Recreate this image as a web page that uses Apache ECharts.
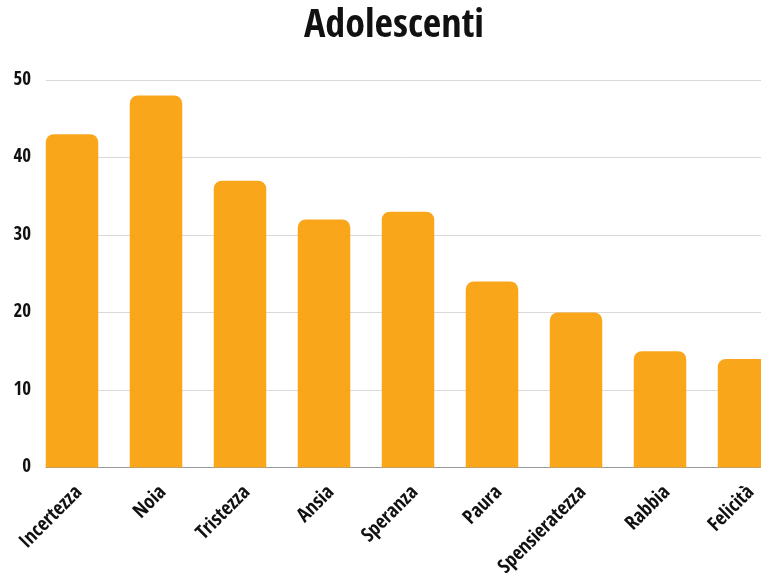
<!DOCTYPE html>
<html>
<head>
<meta charset="utf-8">
<script src="https://cdn.jsdelivr.net/npm/echarts@6/dist/echarts.min.js"></script>
<style>
  html, body { margin: 0; padding: 0; background: #fff; }
  #chart { width: 761px; height: 573px; }
</style>
</head>
<body>
<div id="chart"></div>
<script>
// Emozioni indicate dagli adolescenti
const categories = ['Incertezza', 'Noia', 'Tristezza', 'Ansia', 'Speranza', 'Paura', 'Spensieratezza', 'Rabbia', 'Felicità'];
const values = [43, 48, 37, 32, 33, 24, 20, 15, 14];
const yTicks = [0, 10, 20, 30, 40, 50];

const FONT = '"Open Sans Condensed", "Open Sans", sans-serif';
const TOP = 80, PLOT_H = 387.5;

const chart = echarts.init(document.getElementById('chart'), null, { renderer: 'canvas' });
chart.setOption({
  backgroundColor: '#ffffff',
  animation: false,
  title: {
    text: 'Adolescenti',
    left: 304,
    top: 7,
    padding: 0,
    textStyle: { fontFamily: FONT, fontWeight: 'bold', fontSize: 40, color: '#111' }
  },
  grid: [
    // bars: nine slots of 84px, the last one running past the right edge
    { left: 30, top: TOP, width: 756, height: PLOT_H, containLabel: false, outerBoundsMode: 'none' },
    // gridlines and value labels
    { left: 46, top: TOP, right: 0, height: PLOT_H, containLabel: false, outerBoundsMode: 'none' }
  ],
  xAxis: [
    {
      gridIndex: 0,
      type: 'category',
      data: categories,
      axisLine: { show: false },
      axisTick: { show: false },
      axisLabel: {
        rotate: 45,
        margin: 15,
        interval: 0,
        align: 'right',
        verticalAlign: 'top',
        fontFamily: FONT,
        fontWeight: 'bold',
        fontSize: 20,
        color: '#111'
      }
    },
    {
      gridIndex: 1,
      type: 'value',
      min: 0,
      max: 1,
      axisLine: { show: true, lineStyle: { color: '#999', width: 1 } },
      axisTick: { show: false },
      axisLabel: { show: false },
      splitLine: { show: false }
    }
  ],
  yAxis: [
    {
      gridIndex: 0,
      type: 'value',
      min: yTicks[0],
      max: yTicks[yTicks.length - 1],
      interval: 10,
      show: false
    },
    {
      gridIndex: 1,
      type: 'value',
      min: yTicks[0],
      max: yTicks[yTicks.length - 1],
      interval: 10,
      axisLine: { show: false },
      axisTick: { show: false },
      axisLabel: {
        margin: 15,
        fontFamily: FONT,
        fontWeight: 'bold',
        fontSize: 19,
        color: '#111'
      },
      splitLine: { show: true, lineStyle: { color: '#d9d9d9', width: 1 } }
    }
  ],
  series: [
    {
      type: 'bar',
      xAxisIndex: 0,
      yAxisIndex: 0,
      data: values,
      barWidth: 52.5,
      z: 5,
      itemStyle: { color: '#F9A61B', borderRadius: [8, 8, 0, 0] }
    }
  ]
});
</script>
</body>
</html>
